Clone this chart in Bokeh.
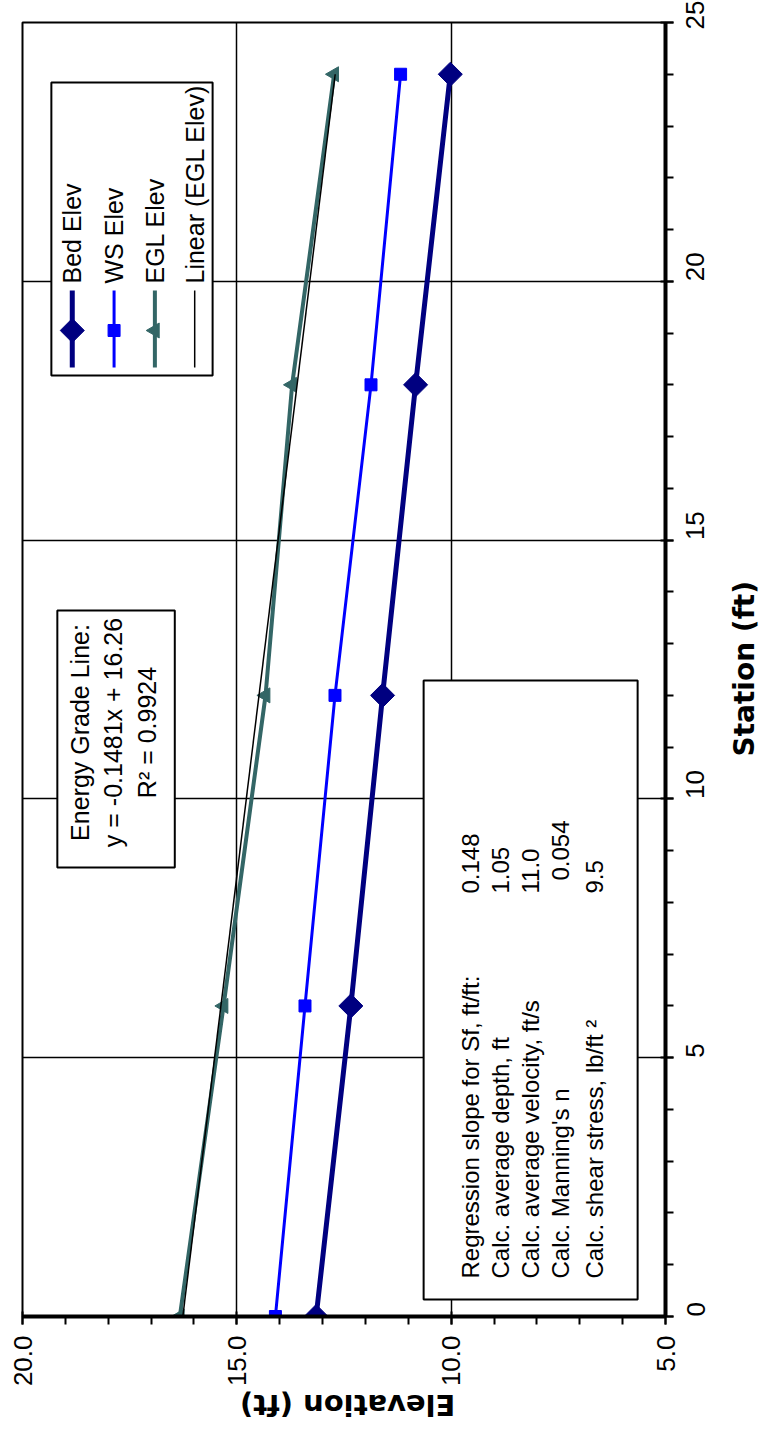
import math
from bokeh.plotting import figure
from bokeh.models import Range1d, FixedTicker, PrintfTickFormatter, Label, BoxAnnotation
from bokeh.embed import file_html
from bokeh.resources import INLINE

# ---------------- data ----------------
station = [0, 6, 12, 18, 24]
bed_elev = [13.15, 12.34, 11.60, 10.83, 10.02]
ws_elev = [14.10, 13.41, 12.71, 11.87, 11.18]
egl_elev = [16.33, 15.31, 14.33, 13.71, 12.73]
trend_slope = -0.1481
trend_intercept = 16.26
trend_station = [0, 24]
trend_elev = [trend_intercept + trend_slope * s for s in trend_station]

elev_ticks = [20, 15, 10, 5]
elev_minor = list(range(5, 21))
station_ticks = [0, 5, 10, 15, 20, 25]
station_minor = list(range(0, 26))

x_title = "Elevation (ft)"
y_title = "Station (ft)"
legend_names = ["Bed Elev", "WS Elev", "EGL Elev", "Linear (EGL Elev)"]
egl_box_lines = ["Energy Grade Line:", "y = -0.1481x + 16.26", "R\u00b2 = 0.9924"]
stat_labels = ["Regression slope for Sf, ft/ft:", "Calc. average depth, ft",
               "Calc. average velocity, ft/s", "Calc. Manning's n",
               "Calc. shear stress, lb/ft \u00b2"]
stat_values = ["0.148", "1.05", "11.0", "0.054", "9.5"]

FONT = "Liberation Sans"
TITLE_FONT = "DejaVu Sans"
BED_C, WS_C, EGL_C = "#000080", "#0000FF", "#336666"
EM, EN = "\u2003", "\u2002"

# frame geometry (pixels in page) -> data helpers for decorations
FL, FR, FT, FB = 22, 668, 22, 1316
def ex(px):
    return 20 - (px - FL) * 15.0 / (FR - FL)
def sy(py):
    return (FB - py) * 25.0 / (FB - FT)

W, H = 780, 1443
p = figure(width=W, height=H,
           x_range=Range1d(20, 5), y_range=Range1d(0, 25),
           y_axis_location="right", output_backend="svg", toolbar_location=None,
           min_border_left=FL, min_border_top=FT,
           min_border_right=W - FR, min_border_bottom=H - FB,
           background_fill_color="white", border_fill_color="white")

p.outline_line_color = "black"
p.outline_line_width = 2

xa = p.xaxis[0]
xa.ticker = FixedTicker(ticks=elev_ticks, minor_ticks=elev_minor)
xa.formatter = PrintfTickFormatter(format="%.1f")
ya = p.yaxis[0]
ya.ticker = FixedTicker(ticks=station_ticks, minor_ticks=station_minor)
ya.formatter = PrintfTickFormatter(format="%d")
for ax in (xa, ya):
    ax.axis_line_color = "black"
    ax.axis_line_width = 4
    ax.major_tick_line_color = "black"
    ax.major_tick_line_width = 2
    ax.major_tick_out = 8
    ax.major_tick_in = 5
    ax.minor_tick_line_color = "black"
    ax.minor_tick_line_width = 2
    ax.minor_tick_out = 8
    ax.minor_tick_in = 0
    ax.major_label_text_font = FONT
    ax.major_label_text_font_size = "26px"
    ax.major_label_text_color = "black"
    ax.major_label_orientation = math.pi / 2
    ax.axis_label_text_font = TITLE_FONT
    ax.axis_label_text_font_style = "bold"
    ax.axis_label_text_color = "black"
    ax.axis_label_text_line_height = 0.8
xa.major_label_standoff = 11
ya.major_label_standoff = 22

# rotated axis titles: anchored at one end of the axis, shifted to the centre with spaces
xa.axis_label = x_title + EM * 7 + EN
xa.axis_label_orientation = math.pi
xa.axis_label_align = "end"
xa.axis_label_text_font_size = "29px"
xa.axis_label_standoff = 16
ya.axis_label = EM * 20 + y_title
ya.axis_label_orientation = math.pi / 2
ya.axis_label_align = "start"
ya.axis_label_text_font_size = "28px"
ya.axis_label_standoff = 28

p.xgrid.ticker = FixedTicker(ticks=elev_ticks)
p.ygrid.ticker = FixedTicker(ticks=station_ticks)
for g in (p.xgrid, p.ygrid):
    g.grid_line_color = "black"
    g.grid_line_width = 1.5

# ---------------- series ----------------
p.line(bed_elev, station, line_color=BED_C, line_width=5)
p.scatter(bed_elev, station, marker="square", angle=math.pi / 4, size=17,
          fill_color=BED_C, line_color=BED_C)
p.line(ws_elev, station, line_color=WS_C, line_width=3)
p.scatter(ws_elev, station, marker="square", size=12, fill_color=WS_C, line_color=WS_C)
p.line(egl_elev, station, line_color=EGL_C, line_width=4)
p.scatter(egl_elev, station, marker="triangle", angle=math.pi / 2, size=15,
          fill_color=EGL_C, line_color=EGL_C)
p.line(trend_elev, trend_station, line_color="black", line_width=1.5)

def box(l, r, t, b):
    p.add_layout(BoxAnnotation(left=ex(l), right=ex(r), top=sy(t), bottom=sy(b),
                               fill_color="white", fill_alpha=1, line_color="black",
                               line_alpha=1, line_width=2))

def rot_label(px, py, txt, size, align):
    p.add_layout(Label(x=ex(px), y=sy(py), text=txt, angle=math.pi / 2,
                       text_align=align, text_baseline="middle", text_font=FONT,
                       text_font_size=size, text_color="black", level="overlay"))

# ---------------- legend (rotated, drawn by hand) ----------------
box(51, 213, 82, 375)
leg_x = [72, 114, 155, 195]
leg_styles = [(BED_C, 5, "square", math.pi / 4, 17),
              (WS_C, 3, "square", 0, 12),
              (EGL_C, 4, "triangle", math.pi / 2, 15),
              ("black", 1.5, None, 0, 0)]
for name, lx, (c, lw, mk, ang, sz) in zip(legend_names, leg_x, leg_styles):
    r = p.line([ex(lx), ex(lx)], [sy(290), sy(367)], line_color=c, line_width=lw)
    r.level = "overlay"
    if mk:
        r2 = p.scatter([ex(lx)], [sy(330)], marker=mk, angle=ang, size=sz,
                       fill_color=c, line_color=c)
        r2.level = "overlay"
    rot_label(lx, 283, name, "25px", "left")

# ---------------- Energy grade line box ----------------
box(57, 175, 610, 867)
for txt, lx in zip(egl_box_lines, [80, 113, 147]):
    rot_label(lx, 732, txt, "25px", "center")

# ---------------- statistics box ----------------
box(425, 640, 680, 1299)
stat_x = [472, 502, 532, 563, 597]
val_bottom = [893, 893, 893, 880, 893]
for lab, val, lx, vb in zip(stat_labels, stat_values, stat_x, val_bottom):
    rot_label(lx, 1278, lab, "24px", "left")
    rot_label(lx, vb, val, "24px", "left")

open("out.html", "w").write(file_html(p, INLINE))
